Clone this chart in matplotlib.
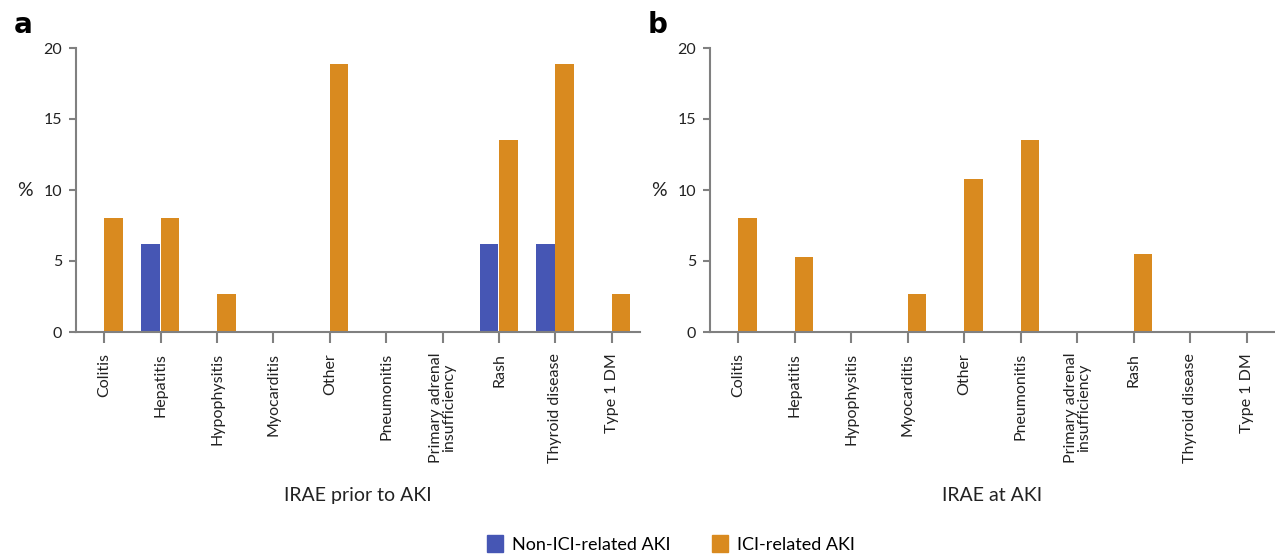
import matplotlib
matplotlib.use("Agg")
import matplotlib.pyplot as plt
import numpy as np
from matplotlib.patches import Patch

plt.rcParams['font.family'] = ['Lato', 'DejaVu Sans']

categories = ["Colitis", "Hepatitis", "Hypophysitis", "Myocarditis", "Other",
              "Pneumonitis", "Primary adrenal\ninsufficiency", "Rash",
              "Thyroid disease", "Type 1 DM"]

# Panel a: IRAE prior to AKI
a_non_ici = [0, 6.2, 0, 0, 0, 0, 0, 6.2, 6.2, 0]
a_ici = [8.0, 8.0, 2.7, 0, 18.9, 0, 0, 13.5, 18.9, 2.7]

# Panel b: IRAE at AKI
b_non_ici = [0, 0, 0, 0, 0, 0, 0, 0, 0, 0]
b_ici = [8.0, 5.3, 0, 2.7, 10.8, 13.5, 0, 5.5, 0, 0]

series_names = ["Non-ICI-related AKI", "ICI-related AKI"]
panel_titles = ["IRAE prior to AKI", "IRAE at AKI"]
panel_letters = ["a", "b"]

BLUE = "#4656B4"
ORANGE = "#D98A1F"
AXC = "#808080"
TXT = "#222222"

W, H = 1275, 555
fig = plt.figure(figsize=(W / 100, H / 100), dpi=100)

axes_px = [(76, 640), (710, 1275)]
top_px, bot_px = 48, 332

x = np.arange(len(categories))
bw = 0.33
datasets = [(a_non_ici, a_ici), (b_non_ici, b_ici)]

for i, ((l, r), (non, ici)) in enumerate(zip(axes_px, datasets)):
    ax = fig.add_axes([l / W, 1 - bot_px / H, (r - l) / W, (bot_px - top_px) / H])
    ax.bar(x - bw / 2 - 0.01, non, width=bw, color=BLUE)
    ax.bar(x + bw / 2, ici, width=bw, color=ORANGE)
    ax.set_xlim(-0.5, 9.5)
    ax.set_ylim(0, 20)
    ax.set_yticks([0, 5, 10, 15, 20])
    ax.set_xticks(x)
    ax.set_xticklabels(categories, rotation=90, fontsize=11.5, color=TXT,
                       ha="center", va="top", multialignment="center",
                       linespacing=0.95)
    ax.tick_params(axis="y", labelsize=11.5, labelcolor=TXT, color=AXC,
                   length=5, width=1.5, pad=5)
    ax.tick_params(axis="x", color=AXC, length=8, width=1.5, pad=7)
    for s in ["top", "right"]:
        ax.spines[s].set_visible(False)
    for s in ["left", "bottom"]:
        ax.spines[s].set_color(AXC)
        ax.spines[s].set_linewidth(1.5)
    ax.set_xlabel(panel_titles[i], fontsize=14, color=TXT, labelpad=17)
    ax.set_ylabel("%", fontsize=14, rotation=0, color=TXT, labelpad=13, va="center")
    fig.text((l - 62) / W, 1 - 25 / H, panel_letters[i], fontsize=20,
             fontweight="bold", family="DejaVu Sans", va="center", ha="left")

handles = [Patch(color=BLUE, label=series_names[0]),
           Patch(color=ORANGE, label=series_names[1])]
fig.legend(handles=handles, loc="center", bbox_to_anchor=(671 / W, 1 - 544 / H),
           ncol=2, frameon=False, fontsize=13, handlelength=0.9, handleheight=1.1,
           columnspacing=2.3, handletextpad=0.5)

fig.savefig("out.png", dpi=100)
